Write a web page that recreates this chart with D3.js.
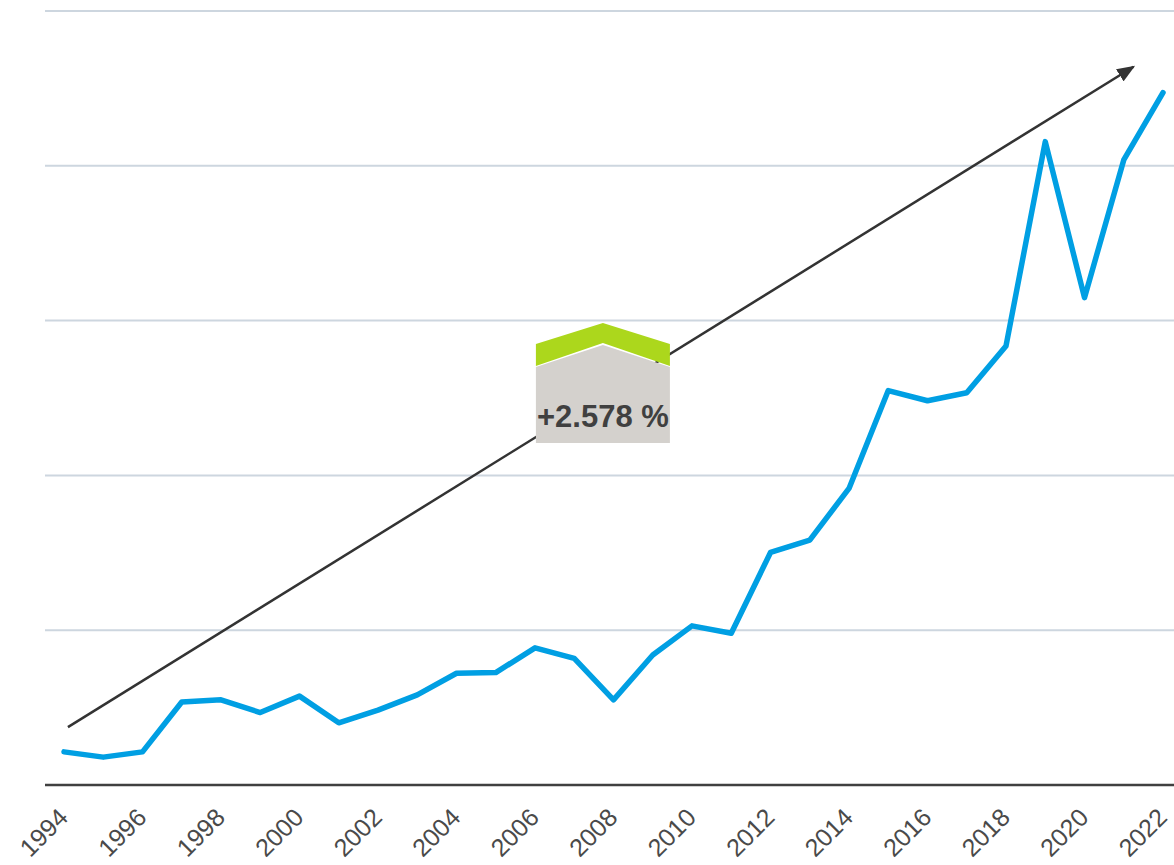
<!DOCTYPE html>
<html>
<head>
<meta charset="utf-8">
<script src="https://cdn.jsdelivr.net/npm/d3@7"></script>
<style>
  body { margin: 0; background: #fff; }
  svg { display: block; }
</style>
</head>
<body>
<svg id="chart" width="1174" height="865"></svg>
<script>
var years = [1994,1995,1996,1997,1998,1999,2000,2001,2002,2003,2004,2005,2006,2007,
             2008,2009,2010,2011,2012,2013,2014,2015,2016,2017,2018,2019,2020,2021,2022];
var values = [10.7,9.0,10.7,26.8,27.5,23.4,28.7,20.1,24.2,29.1,36.1,36.3,44.3,40.9,
              27.5,42.0,51.4,49.0,75.1,79.1,95.8,127.4,124.1,126.7,141.8,207.8,157.4,201.9,223.6];
var yTicks = [0,50,100,150,200,250];
var tickYears = [1994,1996,1998,2000,2002,2004,2006,2008,2010,2012,2014,2016,2018,2020,2022];
var trendFrom = [1994.1, 18.7];
var trendTo = [2021.25, 232];
var growthLabel = "+2.578 %";
var growthAt = [2007.73, 110.5];

var w = 1174, h = 865;
var svg = d3.select("#chart");

var x = d3.scaleLinear().domain([1994,2022]).range([64,1163]);
var y = d3.scaleLinear().domain([0,250]).range([785,11]);

// gridlines
svg.append("g")
	.selectAll("line")
	.data(yTicks.slice(1))
	.enter().append("line")
		.attr("x1", 45)
		.attr("x2", w)
		.attr("y1", function(d){return y(d);})
		.attr("y2", function(d){return y(d);})
		.attr("stroke", "#cdd6df")
		.attr("stroke-width", 2);

// x axis
var xaxis = d3.axisBottom(x)
	.tickValues(tickYears)
	.tickFormat(function(d){return d;})
	.tickSize(0);

var gx = svg.append("g")
	.attr("transform", "translate(0," + y(0) + ")")
	.call(xaxis);
gx.select(".domain").remove();
gx.append("line")
	.attr("x1", 45).attr("x2", w)
	.attr("stroke", "#404040")
	.attr("stroke-width", 2.5);
gx.selectAll("text")
	.attr("font-family", "Liberation Sans, Arial, sans-serif")
	.attr("font-size", "25px")
	.attr("fill", "#4a4a4a")
	.attr("text-anchor", "end")
	.attr("dy", 0)
	.attr("y", 0)
	.attr("transform", "translate(5,34) rotate(-45)");

// trend arrow
svg.append("defs").append("marker")
	.attr("id", "head")
	.attr("viewBox", "0 0 10 8")
	.attr("refX", 9).attr("refY", 4)
	.attr("markerWidth", 18).attr("markerHeight", 14.4)
	.attr("markerUnits", "userSpaceOnUse")
	.attr("orient", "auto")
	.append("path")
		.attr("d", "M0,0 L10,4 L0,8 z")
		.attr("fill", "#333");

svg.append("line")
	.attr("x1", x(trendFrom[0])).attr("y1", y(trendFrom[1]))
	.attr("x2", x(trendTo[0])).attr("y2", y(trendTo[1]))
	.attr("stroke", "#333")
	.attr("stroke-width", 2.5)
	.attr("marker-end", "url(#head)");

// data line
var line = d3.line()
	.x(function(d,i){return x(years[i]);})
	.y(function(d){return y(d);});

svg.append("path")
	.attr("d", line(values))
	.attr("fill", "none")
	.attr("stroke", "#009fe3")
	.attr("stroke-width", 5.5)
	.attr("stroke-linejoin", "round")
	.attr("stroke-linecap", "round");

// growth badge
var badge = svg.append("g")
	.attr("transform", "translate(" + x(growthAt[0]) + "," + y(growthAt[1]) + ")");
badge.append("path")
	.attr("d", "M-67,0 L67,0 L67,-76 L0,-98 L-67,-76 Z")
	.attr("fill", "#d4d1cd");
badge.append("path")
	.attr("d", "M-67,-77 L0,-100 L67,-77 L67,-99 L0,-120 L-67,-99 Z")
	.attr("fill", "#acd71c");
badge.append("text")
	.attr("x", 0).attr("y", -16)
	.attr("text-anchor", "middle")
	.attr("font-family", "Liberation Sans, Arial, sans-serif")
	.attr("font-weight", "bold")
	.attr("font-size", "31px")
	.attr("fill", "#404040")
	.text(growthLabel);
</script>
</body>
</html>
